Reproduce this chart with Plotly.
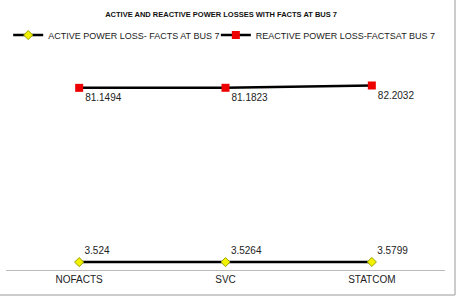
import plotly.graph_objects as go

categories = ["NOFACTS", "SVC", "STATCOM"]
active_loss = [3.524, 3.5264, 3.5799]
reactive_loss = [81.1494, 81.1823, 82.2032]
active_labels = ["3.524", "3.5264", "3.5799"]
reactive_labels = ["81.1494", "81.1823", "82.2032"]

font_family = "Liberation Sans, Arial, sans-serif"

fig = go.Figure()
fig.add_trace(go.Scatter(
    x=categories, y=active_loss, mode="lines+markers+text",
    name="ACTIVE POWER LOSS- FACTS AT BUS 7",
    line=dict(color="black", width=2.5),
    marker=dict(symbol="diamond", size=7, color="#F2F200", line=dict(color="#9AA000", width=1)),
    text=active_labels, textposition="top right",
    textfont=dict(size=10, color="#222"),
    legend="legend",
))
fig.add_trace(go.Scatter(
    x=categories, y=reactive_loss, mode="lines+markers+text",
    name="REACTIVE POWER LOSS-FACTSAT BUS 7",
    line=dict(color="black", width=2.5),
    marker=dict(symbol="square", size=8, color="#EE0000"),
    text=reactive_labels, textposition="bottom right",
    textfont=dict(size=10, color="#222"),
    legend="legend2",
))

leg_common = dict(orientation="h", xanchor="left", y=1.163, yanchor="middle",
                  font=dict(size=9, family=font_family, color="#222"),
                  bgcolor="rgba(0,0,0,0)", borderwidth=0, itemwidth=30)

fig.update_layout(
    width=458, height=297,
    margin=dict(l=6, r=13, t=68, b=27),
    paper_bgcolor="white", plot_bgcolor="white",
    font=dict(family=font_family, size=10, color="#222"),
    title=dict(text="<b>ACTIVE AND REACTIVE POWER LOSSES WITH FACTS AT BUS 7</b>",
               x=0.49, xanchor="center", xref="paper", y=0.953, yanchor="middle",
               font=dict(size=7.5, color="#111")),
    legend=dict(x=0.005, **leg_common),
    legend2=dict(x=0.478, **leg_common),
    showlegend=True,
    xaxis=dict(type="category", range=[-0.5, 2.5], showgrid=False,
               showline=True, linecolor="#BBBBBB", linewidth=1,
               ticks="", tickfont=dict(size=10), fixedrange=True),
    yaxis=dict(range=[0, 90], visible=False, showgrid=False, zeroline=False),
    shapes=[
        dict(type="line", xref="paper", yref="paper", x0=1.0228, x1=1.0228, y0=-0.124, y1=1.4,
             line=dict(color="#BBBBBB", width=1.5)),
        dict(type="line", xref="paper", yref="paper", x0=-0.02, x1=1.0228, y0=-0.124, y1=-0.124,
             line=dict(color="#BBBBBB", width=1.5)),
    ],
)

fig.write_html("out.html")
